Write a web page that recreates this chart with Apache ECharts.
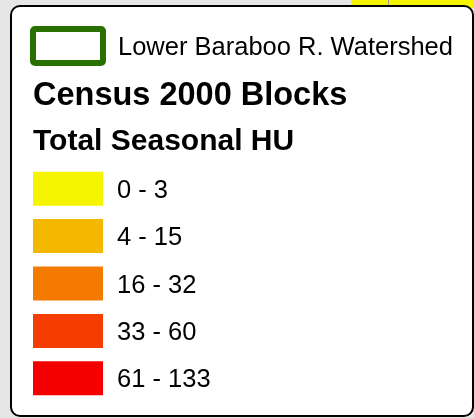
<!DOCTYPE html>
<html>
<head>
<meta charset="utf-8">
<style>
  html, body { margin: 0; padding: 0; background: #e6e6e6; }
  #chart { width: 474px; height: 418px; }
</style>
<script src="https://cdn.jsdelivr.net/npm/echarts@6/dist/echarts.min.js"></script>
</head>
<body>
<div id="chart"></div>
<script>
// legend classes for Total Seasonal HU
const classes = ["0 - 3", "4 - 15", "16 - 32", "33 - 60", "61 - 133"];
const classColors = ["#f5f500", "#f5b800", "#f57a00", "#f53d00", "#f50000"];
const swatchValues = [1, 1, 1, 1, 1];

const layerName = "Lower Baraboo R. Watershed";
const titleMain = "Census 2000 Blocks";
const titleSub = "Total Seasonal HU";

const FONT = "'Liberation Sans', Arial, sans-serif";

const chart = echarts.init(document.getElementById("chart"));

const option = {
  backgroundColor: "#e6e6e6",
  animation: false,
  graphic: [
    // yellow map patch peeking out at top right
    { type: "rect", z: -10, shape: { x: 351, y: 0, width: 123, height: 8 }, style: { fill: "#f5f500" } },
    { type: "rect", z: -9, shape: { x: 388, y: 0, width: 1, height: 6 }, style: { fill: "#999" } },
    // legend box
    {
      type: "rect", z: -5,
      shape: { x: 11, y: 6, width: 462, height: 410, r: 9 },
      style: { fill: "#fff", stroke: "#000", lineWidth: 2 }
    },
    // watershed outline swatch
    {
      type: "rect", z: 5,
      shape: { x: 33, y: 29, width: 70, height: 34, r: 2 },
      style: { fill: "#fff", stroke: "#2a7000", lineWidth: 6 }
    },
    {
      type: "text", z: 5,
      style: { text: layerName, x: 118, y: 48, fill: "#000", font: "25.5px " + FONT, verticalAlign: "middle" }
    },
    {
      type: "text", z: 5,
      style: { text: titleMain, x: 33, y: 96, fill: "#000", font: "bold 32.5px " + FONT, verticalAlign: "middle" }
    },
    {
      type: "text", z: 5,
      style: { text: titleSub, x: 33, y: 142, fill: "#000", font: "bold 30px " + FONT, verticalAlign: "middle" }
    }
  ],
  grid: { left: 33, width: 70, top: 165, bottom: 16 },
  xAxis: { type: "value", min: 0, max: 1, show: false },
  yAxis: { type: "category", data: classes, inverse: true, show: false },
  series: [
    {
      type: "bar",
      z: 6,
      barWidth: 34,
      data: swatchValues.map((v, i) => ({ value: v, itemStyle: { color: classColors[i] } })),
      label: {
        show: true,
        position: "right",
        distance: 14,
        offset: [0, 2],
        formatter: (p) => classes[p.dataIndex],
        fontFamily: "Liberation Sans, Arial, sans-serif",
        fontSize: 25.5,
        color: "#000"
      }
    }
  ]
};

chart.setOption(option);
</script>
</body>
</html>
